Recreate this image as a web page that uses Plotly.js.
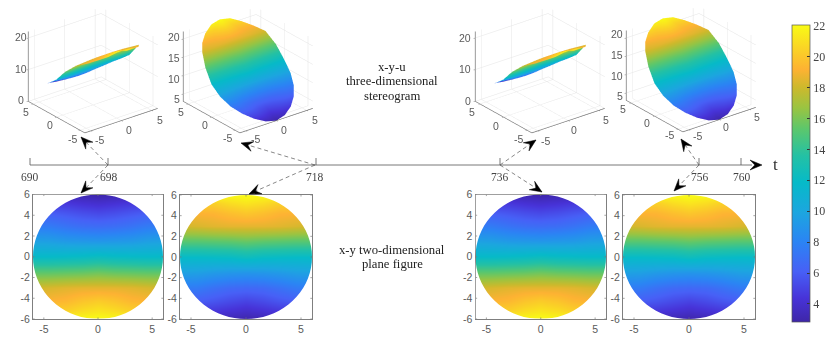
<!DOCTYPE html>
<html>
<head>
<meta charset="utf-8">
<script src="https://cdn.plot.ly/plotly-3.0.1.min.js"></script>
<style>body{margin:0;background:#fff}</style>
</head>
<body>
<div id="plot1" style="width:830px;height:353px"></div>
<script>
// sample columns and rows of the disc, u
var xCols = [-6, -4.5, -3, -1.5, 0, 1.5, 3, 4.5, 6];
var yRows = [6, 5.8, 5.2, 4.24, 3, 1.55, 0, -1.55, -3, -4.24, -5.2, -5.8, -6];
// half width of the disc on each row
var chord = [0, 1.55, 3, 4.24, 5.2, 5.8, 6, 5.8, 5.2, 4.24, 3, 1.55, 0];

var u698 = [
  [3, 3, 3, 3, 3, 3, 3, 3, 3],
  [3.5, 3.5, 3.5, 3.4, 3.2, 3.4, 3.5, 3.5, 3.5],
  [4.6, 4.6, 4.5, 4.2, 4, 4.2, 4.5, 4.6, 4.6],
  [6, 6, 5.7, 5.4, 5.2, 5.4, 5.7, 6, 6],
  [7.6, 7.5, 7.1, 6.8, 6.7, 6.8, 7.1, 7.5, 7.6],
  [9.6, 9.5, 9.2, 9.1, 9, 9.1, 9.2, 9.5, 9.6],
  [11.9, 11.9, 12, 12.1, 12.3, 12.1, 12, 11.9, 11.9],
  [15.4, 15.4, 15.5, 15.6, 15.8, 15.6, 15.5, 15.4, 15.4],
  [18.1, 18.3, 18.5, 18.6, 18.6, 18.6, 18.5, 18.3, 18.1],
  [19.2, 19.2, 19.4, 19.9, 20.2, 19.9, 19.4, 19.2, 19.2],
  [20.4, 20.4, 20.4, 20.9, 21.2, 20.9, 20.4, 20.4, 20.4],
  [21.6, 21.6, 21.6, 21.7, 21.9, 21.7, 21.6, 21.6, 21.6],
  [22, 22, 22, 22, 22, 22, 22, 22, 22]
];
var u718 = [
  [22, 22, 22, 22, 22, 22, 22, 22, 22],
  [21.6, 21.6, 21.6, 21.7, 21.9, 21.7, 21.6, 21.6, 21.6],
  [20.4, 20.4, 20.4, 20.9, 21.2, 20.9, 20.4, 20.4, 20.4],
  [19.2, 19.2, 19.3, 19.7, 20, 19.7, 19.3, 19.2, 19.2],
  [18.1, 18.3, 18.5, 18.6, 18.6, 18.6, 18.5, 18.3, 18.1],
  [15.2, 15.2, 15.3, 15.4, 15.6, 15.4, 15.3, 15.2, 15.2],
  [11.9, 11.9, 12, 12.1, 12.4, 12.1, 12, 11.9, 11.9],
  [9.6, 9.5, 9.2, 9, 8.9, 9, 9.2, 9.5, 9.6],
  [7.6, 7.5, 7, 6.6, 6.5, 6.6, 7, 7.5, 7.6],
  [6, 6, 5.7, 5.3, 5, 5.3, 5.7, 6, 6],
  [4.6, 4.6, 4.5, 4.2, 3.9, 4.2, 4.5, 4.6, 4.6],
  [3.5, 3.5, 3.5, 3.4, 3.2, 3.4, 3.5, 3.5, 3.5],
  [3, 3, 3, 3, 3, 3, 3, 3, 3]
];
// the two later instants read the same as the first two
var u736 = u698;
var u756 = u718;

var fields = [u698, u718, u736, u756];
var timeTicks = ['690', '698', '718', '736', '756', '760'];
var colorTicks = [4, 6, 8, 10, 12, 14, 16, 18, 20, 22];
var planeXTicks = [-5, 0, 5];
var planeYTicks = [-6, -4, -2, 0, 2, 4, 6];

var W = 830, H = 353;
var grey = '#5a5a5a';
var axisGrey = '#7f7f7f';
var sans = 'Liberation Sans, Arial, sans-serif';
var serif = 'Liberation Serif, Times New Roman, serif';
var cMin = 2.85, cMax = 22.06;

var parula = [
  [0, '#3e26a8'], [0.08, '#4733d8'], [0.17, '#4760f6'], [0.27, '#2b84f4'],
  [0.37, '#1ca6df'], [0.47, '#06bac8'], [0.56, '#24c1a4'], [0.65, '#5cc76c'],
  [0.72, '#99c442'], [0.79, '#cdb92c'], [0.85, '#fdb233'], [0.92, '#fad326'],
  [1, '#f9fb15']
];

function px(x) { return x / W; }
function py(y) { return 1 - y / H; }

// pixel boxes of the plane figures [left, right, top, bottom]
var planeBox = [[33, 163, 194.5, 319], [180, 312, 195, 319], [475.5, 606, 194.5, 319], [623, 755, 195, 319]];
// pixel boxes of the 3d scenes
var sceneBox = [[3.5, 181.5, 5, 135], [159, 337, 4.5, 134.5], [451, 629, 5, 135], [602, 780, 4, 134]];
var zRanges = [[0, 22], [3, 22], [0, 22], [3, 22]];
var zAspect = [1.19, 1.19, 1.19, 1.19];
var zTicks = [[0, 10, 20], [5, 10, 15, 20], [0, 10, 20], [5, 10, 15, 20]];
var eye = {x: -1.38, y: -1.78, z: 1.08};

var data = [];
var layout = {
  width: W, height: H,
  margin: {l: 0, r: 0, t: 0, b: 0},
  paper_bgcolor: '#fff',
  plot_bgcolor: '#fff',
  showlegend: false,
  font: {family: sans, size: 10, color: grey},
  coloraxis: {
    cmin: cMin, cmax: cMax,
    colorscale: parula,
    colorbar: {
      x: px(792), xanchor: 'left', xpad: 0, ypad: 0,
      y: py(321.7), yanchor: 'bottom', len: (321.7 - 25) / H, lenmode: 'fraction',
      thickness: 18, thicknessmode: 'pixels',
      outlinecolor: '#555', outlinewidth: 0.7,
      tickmode: 'array', tickvals: colorTicks,
      ticks: 'inside', ticklen: 3, tickcolor: '#333', tickwidth: 0.7,
      tickfont: {family: serif, size: 12, color: '#444'}
    }
  },
  shapes: [],
  annotations: []
};

function addText(x, y, text, size, family, color) {
  layout.annotations.push({
    xref: 'paper', yref: 'paper', x: px(x), y: py(y), text: text,
    showarrow: false, xanchor: 'center', yanchor: 'middle',
    font: {size: size, family: family || sans, color: color || grey}
  });
}

function addLine(x0, y0, x1, y1, color, width, dash) {
  layout.shapes.push({
    type: 'line', xref: 'paper', yref: 'paper',
    x0: px(x0), y0: py(y0), x1: px(x1), y1: py(y1),
    line: {color: color, width: width, dash: dash || 'solid'}
  });
}

function addHead(x0, y0, x1, y1, len, half) {
  var d = Math.sqrt((x1 - x0) * (x1 - x0) + (y1 - y0) * (y1 - y0));
  var ux = (x1 - x0) / d, uy = (y1 - y0) / d;
  var pts = [
    [x1, y1],
    [x1 - ux * len - uy * half, y1 - uy * len + ux * half],
    [x1 - ux * len * 0.6, y1 - uy * len * 0.6],
    [x1 - ux * len + uy * half, y1 - uy * len - ux * half]
  ];
  var path = pts.map(function (p, i) {
    return (i ? 'L' : 'M') + px(p[0]) + ',' + py(p[1]);
  }).join(' ') + ' Z';
  layout.shapes.push({
    type: 'path', xref: 'paper', yref: 'paper', path: path,
    fillcolor: '#000', line: {color: '#000', width: 0.5}
  });
}

function tickText(vals) {
  return vals.map(String);
}

// plane figures
fields.forEach(function (z, k) {
  var n = k + 1;
  var box = planeBox[k];
  var xa = n === 1 ? 'x' : 'x' + n;
  var ya = n === 1 ? 'y' : 'y' + n;
  data.push({
    type: 'heatmap', x: xCols, y: yRows, z: z, xaxis: xa, yaxis: ya,
    zsmooth: 'best', coloraxis: 'coloraxis', hoverinfo: 'skip'
  });
  var common = {
    range: [-6, 6], showgrid: false, zeroline: false, showline: true, mirror: true,
    linecolor: axisGrey, linewidth: 1, ticks: '', tickmode: 'array',
    tickfont: {family: sans, size: 10.5, color: grey}
  };
  layout['xaxis' + (n === 1 ? '' : n)] = Object.assign({}, common, {
    domain: [px(box[0]), px(box[1])], anchor: ya, tickvals: planeXTicks, ticktext: tickText(planeXTicks)
  });
  layout['yaxis' + (n === 1 ? '' : n)] = Object.assign({}, common, {
    domain: [py(box[3]), py(box[2])], anchor: xa, tickvals: planeYTicks, ticktext: tickText(planeYTicks)
  });

  // white outside the disc
  var path = 'M-6,-6 L-6,6 L6,6 L6,-6 Z M6,0';
  for (var a = 5; a <= 360; a += 5) {
    path += ' L' + (6 * Math.cos(a * Math.PI / 180)) + ',' + (6 * Math.sin(a * Math.PI / 180));
  }
  layout.shapes.push({
    type: 'path', xref: xa, yref: ya, path: path + ' Z',
    fillcolor: '#fff', line: {width: 0}
  });
  // inward ticks go over the mask
  planeXTicks.forEach(function (v) {
    [[-6, -5.85], [6, 5.85]].forEach(function (e) {
      layout.shapes.push({type: 'line', xref: xa, yref: ya, x0: v, x1: v, y0: e[0], y1: e[1], line: {color: axisGrey, width: 0.7}});
    });
  });
  planeYTicks.forEach(function (v) {
    [[-6, -5.85], [6, 5.85]].forEach(function (e) {
      layout.shapes.push({type: 'line', xref: xa, yref: ya, y0: v, y1: v, x0: e[0], x1: e[1], line: {color: axisGrey, width: 0.7}});
    });
  });
});

// 3d views
var xGrid = chord.map(function (c) {
  return xCols.map(function (x) { return x * c / 6; });
});
var yGrid = yRows.map(function (y) {
  return xCols.map(function () { return y; });
});

fields.forEach(function (z, k) {
  var name = 'scene' + (k === 0 ? '' : k + 1);
  var box = sceneBox[k];
  data.push({
    type: 'surface', x: xGrid, y: yGrid, z: z, scene: name,
    colorscale: parula, cmin: cMin, cmax: cMax, showscale: false, hoverinfo: 'skip',
    lighting: {ambient: 1, diffuse: 0, specular: 0, fresnel: 0, roughness: 1}
  });
  var ax = {
    showticklabels: false, showbackground: false, showspikes: false, zeroline: false,
    gridcolor: '#e4e4e4', gridwidth: 1, showline: true, linecolor: '#777', linewidth: 1.5,
    ticks: 'outside', ticklen: 2, tickcolor: '#777', tickmode: 'array', title: {text: ''}
  };
  layout[name] = {
    domain: {x: [px(box[0]), px(box[1])], y: [py(box[3]), py(box[2])]},
    aspectmode: 'manual',
    aspectratio: {x: 1.42, y: 1.42, z: zAspect[k]},
    camera: {eye: eye, up: {x: 0, y: 0, z: 1}, center: {x: 0, y: 0, z: 0}, projection: {type: 'orthographic'}},
    xaxis: Object.assign({}, ax, {range: [-6, 6], tickvals: [-5, 0, 5]}),
    yaxis: Object.assign({}, ax, {range: [-6, 6], tickvals: [-5, 0, 5]}),
    zaxis: Object.assign({}, ax, {range: zRanges[k], tickvals: zTicks[k]})
  };
});

// tick labels of the 3d views, placed by eye
var zLabelPos = [
  [[21, 100], [21, 69], [21, 37]],
  [[177, 99], [174, 79], [174, 58], [174, 37]],
  [[468, 101], [465, 69], [465, 38]],
  [[620, 96], [617, 76], [617, 55], [617, 34]]
];
var yLabelPos = [
  [[72, 139], [50, 125], [26, 112]],
  [[227, 138], [205, 125], [181, 112]],
  [[518, 139], [495.5, 126], [472, 112]],
  [[669, 135], [647, 123], [623, 109]]
];
var xLabelPos = [
  [[99, 140], [129, 130], [160, 120]],
  [[255, 139], [284, 130], [315, 120]],
  [[545, 141], [574, 130], [606, 120]],
  [[697, 136], [726, 127], [757, 117]]
];
[0, 1, 2, 3].forEach(function (k) {
  zTicks[k].forEach(function (v, i) { addText(zLabelPos[k][i][0], zLabelPos[k][i][1], String(v), 10.5); });
  [-5, 0, 5].forEach(function (v, i) {
    addText(yLabelPos[k][i][0], yLabelPos[k][i][1], String(v), 10.5);
    addText(xLabelPos[k][i][0], xLabelPos[k][i][1], String(v), 10.5);
  });
});

// time line
var timeX = [30, 108, 316, 500, 699, 741];
var timeLabelX = [30, 109, 315, 500, 699.5, 742];
addLine(30, 165, 752, 165, '#555', 0.8);
timeX.forEach(function (x, i) {
  addLine(x, 158, x, 165, '#555', 0.8);
  addText(timeLabelX[i], 177, timeTicks[i], 11.5, serif, '#444');
});
addHead(745, 165, 762, 165, 12, 5);
addText(775, 164, 't', 17, serif, '#333');

// dashed arrows from the time line to the panels
var arrows = [
  [108, 165, 81, 137], [315, 165, 241, 143], [500, 165, 536, 140], [699, 165, 681, 139],
  [108, 165, 81, 193], [315, 165, 249, 194], [500, 165, 542, 192], [699, 165, 674, 191]
];
arrows.forEach(function (a) {
  addLine(a[0], a[1], a[2], a[3], '#555', 0.7, '4px,3px');
  addHead(a[0], a[1], a[2], a[3], 12, 5);
});

addText(392, 67, 'x-y-u', 12.7, serif, '#222');
addText(392, 81, 'three-dimensional', 12.7, serif, '#222');
addText(392, 96, 'stereogram', 12.7, serif, '#222');
addText(392, 250, 'x-y two-dimensional', 12.7, serif, '#222');
addText(392, 264, 'plane figure', 12.7, serif, '#222');

Plotly.newPlot('plot1', data, layout, {displayModeBar: false});
</script>
</body>
</html>
